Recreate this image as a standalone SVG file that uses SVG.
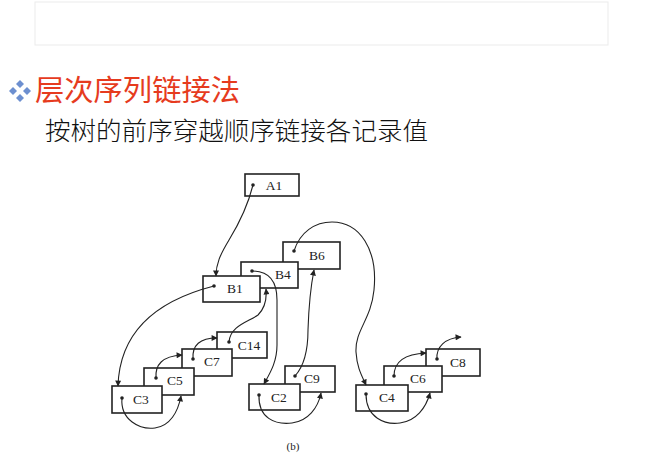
<svg xmlns="http://www.w3.org/2000/svg" width="650" height="470" viewBox="0 0 650 470">
<defs>
<style>
.box{fill:#fff;stroke:#222;stroke-width:1.6}
.lbl{font-family:"Liberation Serif","DejaVu Serif",serif;font-size:13.5px;fill:#222;text-anchor:middle;dominant-baseline:central}
.con{fill:none;stroke:#222;stroke-width:1.1}
.dot{fill:#222}
.bul{fill:#6d8fd0}
</style>
<marker id="ah" viewBox="0 0 10 10" refX="9" refY="5" markerWidth="7" markerHeight="6" markerUnits="userSpaceOnUse" orient="auto">
<path d="M0,0 L10,5 L0,10 Z" fill="#222"/>
</marker>
</defs>
<rect width="650" height="470" fill="#fff"/>
<rect x="35" y="2" width="573" height="43" fill="#fff" stroke="#ebebeb" stroke-width="1"/>

<g id="title">
<polygon class="bul" points="20,80 24,84 20,88 16,84"/>
<polygon class="bul" points="13,87 17,91 13,95 9,91"/>
<polygon class="bul" points="27,87 31,91 27,95 23,91"/>
<polygon class="bul" points="20,94 24,98 20,102 16,98"/>
<text x="35" y="101" font-family="Noto Sans CJK SC, sans-serif" font-size="29" fill="#e63b1e" textLength="205" lengthAdjust="spacingAndGlyphs">层次序列链接法</text>
<text x="45" y="140" font-family="Noto Sans CJK SC, sans-serif" font-size="25" font-weight="300" fill="#111" textLength="383" lengthAdjust="spacingAndGlyphs">按树的前序穿越顺序链接各记录值</text>
</g>

<g id="A1"><rect class="box" x="245" y="174" width="54" height="22"/><text class="lbl" x="274" y="185">A1</text></g>
<g id="B6"><rect class="box" x="283" y="242" width="57" height="27"/><text class="lbl" x="317" y="255">B6</text></g>
<g id="B4"><rect class="box" x="241" y="262" width="57" height="26"/><text class="lbl" x="283" y="274">B4</text></g>
<g id="B1"><rect class="box" x="203" y="276" width="57" height="26"/><text class="lbl" x="235" y="288">B1</text></g>
<g id="C14"><rect class="box" x="217" y="332" width="50" height="26"/><text class="lbl" x="249" y="345">C14</text></g>
<g id="C7"><rect class="box" x="182" y="349" width="50" height="27"/><text class="lbl" x="212" y="361">C7</text></g>
<g id="C5"><rect class="box" x="144" y="368" width="50" height="27"/><text class="lbl" x="175" y="380">C5</text></g>
<g id="C3"><rect class="box" x="112" y="386" width="50" height="27"/><text class="lbl" x="141" y="399">C3</text></g>
<g id="C9"><rect class="box" x="285" y="366" width="50" height="26"/><text class="lbl" x="312" y="378">C9</text></g>
<g id="C2"><rect class="box" x="249" y="384" width="51" height="26"/><text class="lbl" x="279" y="397">C2</text></g>
<g id="C8"><rect class="box" x="426" y="349" width="54" height="27"/><text class="lbl" x="458" y="362">C8</text></g>
<g id="C6"><rect class="box" x="384" y="366" width="58" height="26"/><text class="lbl" x="418" y="378">C6</text></g>
<g id="C4"><rect class="box" x="356" y="385" width="52" height="26"/><text class="lbl" x="387" y="397">C4</text></g>

<g id="connectors">
<path class="con" marker-end="url(#ah)" d="M253,185 C248,205 240,222 229,240 C220,255 216,264 216,276"/>
<path class="con" marker-end="url(#ah)" d="M214,286 C175,296 120,320 118,386"/>
<path class="con" marker-end="url(#ah)" d="M252,271 C268,271 277,280 277,300 L277,345 C277,362 270,373 264,384"/>
<path class="con" marker-end="url(#ah)" d="M229,342 C230,326 248,322 258,315 C264,309 267,300 266,289"/>
<path class="con" marker-end="url(#ah)" d="M294,251 C300,232 315,222 332,222 C360,222 378,250 374,290 C371,320 355,330 356,352 C357,368 362,376 366,385"/>
<path class="con" marker-end="url(#ah)" d="M295,376 C305,365 308,350 308,330 C309,300 311,285 314,270"/>
<path class="con" marker-end="url(#ah)" d="M122,398 C120,420 140,430 155,428 C170,426 178,412 181,396"/>
<path class="con" marker-end="url(#ah)" d="M156,378 C155,365 162,356 182,355"/>
<path class="con" marker-end="url(#ah)" d="M193,359 C192,345 200,338 217,338"/>
<path class="con" marker-end="url(#ah)" d="M259,395 C258,418 275,425 292,423 C308,421 318,408 321,393"/>
<path class="con" marker-end="url(#ah)" d="M366,394 C366,418 385,425 400,423 C416,421 426,408 430,393"/>
<path class="con" marker-end="url(#ah)" d="M394,376 C394,362 404,354 426,353"/>
<path class="con" marker-end="url(#ah)" d="M437,359 C436,347 445,338 461,337"/>
<circle class="dot" cx="253" cy="185" r="1.8"/>
<circle class="dot" cx="214" cy="286" r="1.8"/>
<circle class="dot" cx="252" cy="271" r="1.8"/>
<circle class="dot" cx="229" cy="342" r="1.8"/>
<circle class="dot" cx="294" cy="251" r="1.8"/>
<circle class="dot" cx="295" cy="376" r="1.8"/>
<circle class="dot" cx="122" cy="398" r="1.8"/>
<circle class="dot" cx="156" cy="378" r="1.8"/>
<circle class="dot" cx="193" cy="359" r="1.8"/>
<circle class="dot" cx="259" cy="395" r="1.8"/>
<circle class="dot" cx="366" cy="394" r="1.8"/>
<circle class="dot" cx="394" cy="376" r="1.8"/>
<circle class="dot" cx="437" cy="359" r="1.8"/>
</g>
<text x="293" y="446" font-family="Liberation Serif, serif" font-size="11" fill="#222" text-anchor="middle" dominant-baseline="central">(b)</text>
</svg>
